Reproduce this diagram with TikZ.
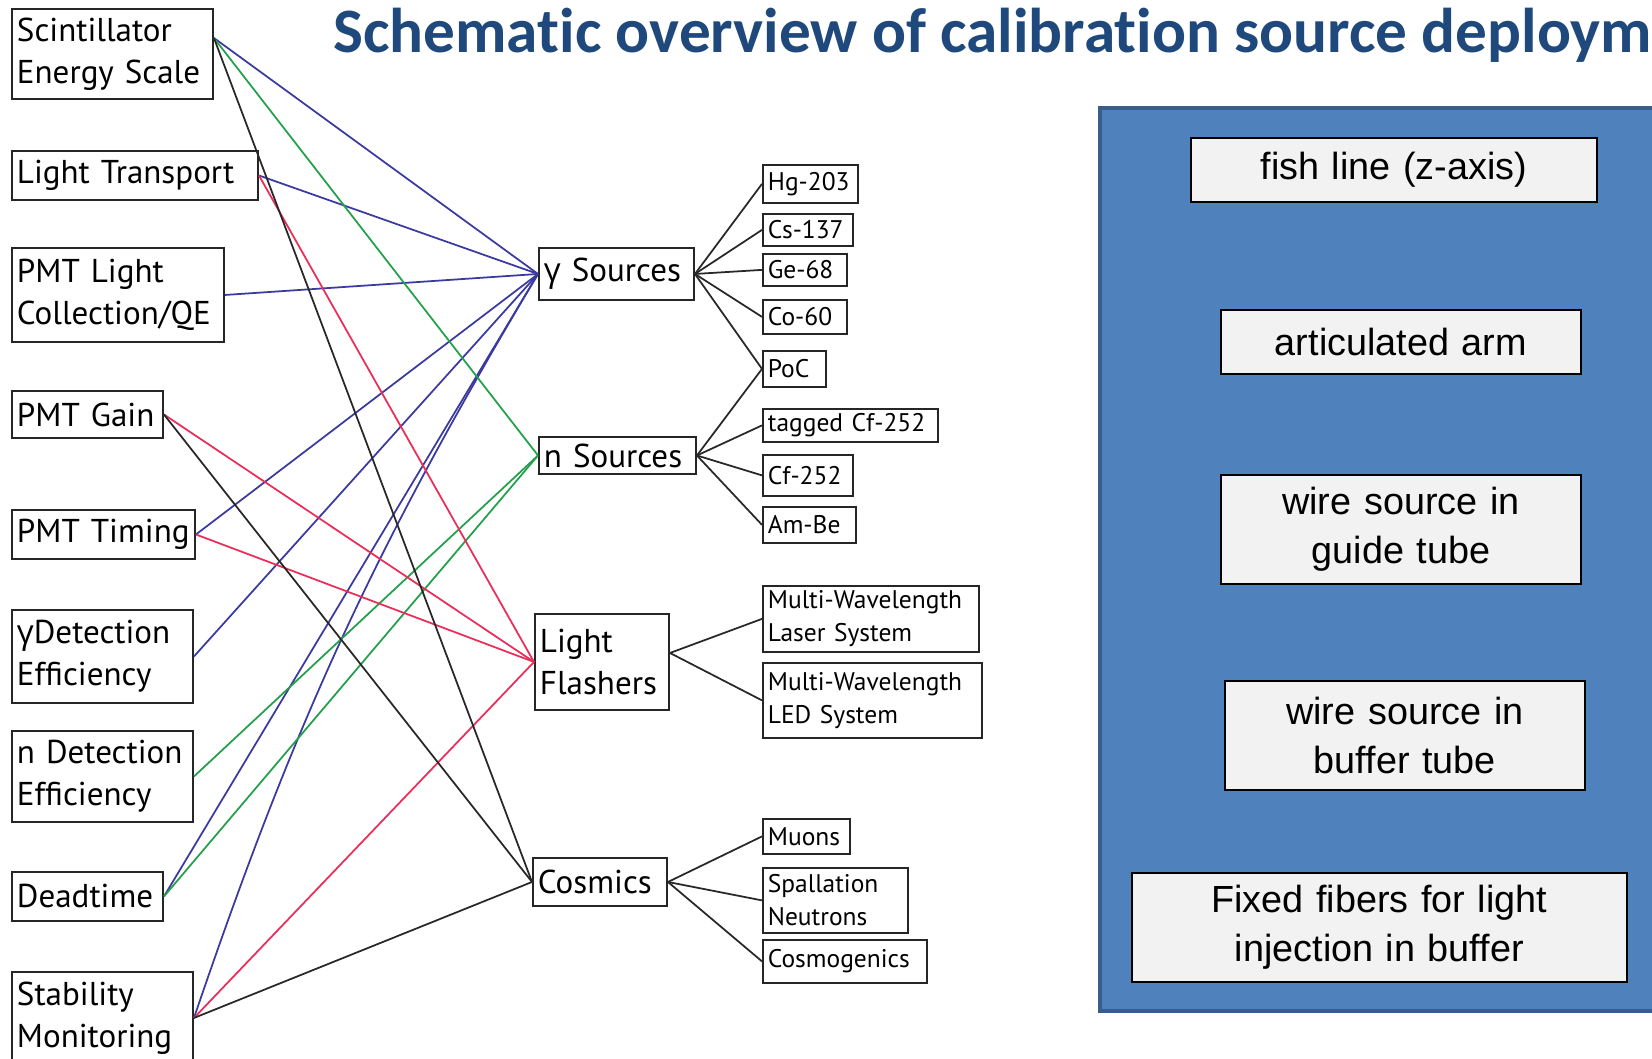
\documentclass[tikz,border=0pt]{standalone}
\usepackage{fontspec}
\setmainfont{PT Sans}
\newfontfamily\titlefont{Carlito}
\newfontfamily\armfont{Liberation Sans}
\newfontfamily\grkfont{Open Sans}
\usetikzlibrary{calc}

\definecolor{lineblue}{RGB}{58,58,160}
\definecolor{linegreen}{RGB}{35,160,75}
\definecolor{linered}{RGB}{235,45,90}
\definecolor{lineblack}{RGB}{40,40,40}
\definecolor{panelblue}{RGB}{79,129,189}
\definecolor{paneledge}{RGB}{56,93,138}
\definecolor{titleblue}{RGB}{31,73,125}
\definecolor{boxgrey}{RGB}{242,242,242}

\begin{document}
\begin{tikzpicture}[x=0.02cm,y=-0.02cm,
dims/.style 2 args={text width=(#1-10)*0.02cm, minimum height=#2*0.02cm}]
\tikzstyle{param} = [draw=black!85, line width=1.1pt, anchor=north west, align=left,
inner xsep=2.85pt, inner ysep=0pt, font=\fontsize{18.8}{23.9}\selectfont]
\tikzstyle{group} = [param]
\tikzstyle{source} = [param, line width=1pt, font=\fontsize{14.5}{18.8}\selectfont]
\tikzstyle{method} = [draw=black, line width=1pt, fill=boxgrey, anchor=north west,
align=center, inner xsep=2.85pt, inner ysep=0pt, font=\armfont\fontsize{21.5}{28}\selectfont]
\tikzstyle{bline} = [draw=lineblue, line width=1pt]
\tikzstyle{gline} = [draw=linegreen, line width=1pt]
\tikzstyle{rline} = [draw=linered, line width=1pt]
\tikzstyle{kline} = [draw=lineblack, line width=1pt]

\useasboundingbox (0,0) rectangle (1652,1058);
\clip (0,0) rectangle (1652,1058);

\node[anchor=base west, inner sep=0pt, text=titleblue,
font=\titlefont\bfseries\fontsize{36}{40}\selectfont] (title) at (333,52)
{Schemat\kern0pt ic overview of calibrat\kern0pt ion source deploym};

% what is calibrated
\node[param, dims={201}{90}] (scint) at (11,8) {Scintillator\\Energy Scale};
\node[param, dims={246}{49}] (ltrans) at (11,150) {Light Transport};
\node[param, dims={212}{94}] (pmtqe) at (11,247) {PMT Light\\Collection/QE};
\node[param, dims={151}{47}] (gain) at (11,390) {PMT Gain};
\node[param, dims={183}{49}] (timing) at (11,509) {PMT Timing};
\node[param, dims={181}{93}] (gdet) at (11,609) {{\grkfont γ}Detection\\Efficiency};
\node[param, dims={181}{91}] (ndet) at (11,730) {n Detection\\Efficiency};
\node[param, dims={151}{49}] (dead) at (11,871) {Deadtime};
\node[param, dims={181}{92}] (stab) at (11,971) {Stability\\Monitoring};

% kinds of source
\node[group, dims={155}{52}] (gsrc) at (538,247) {{\grkfont γ} Sources};
\node[group, dims={157}{37}] (nsrc) at (538,436) {n Sources};
\node[group, dims={134}{96}] (flash) at (534,613) {Light\\Flashers};
\node[group, dims={134}{48}] (cosm) at (532,857) {Cosmics};

\node[source, dims={95}{38}] (hg) at (762,164) {Hg-203};
\node[source, dims={90}{32}] (cs) at (762,213) {Cs-137};
\node[source, dims={84}{32}] (ge) at (762,253) {Ge-68};
\node[source, dims={84}{34}] (co) at (762,299) {Co-60};
\node[source, dims={63}{36}] (poc) at (762,350) {PoC};
\node[source, dims={175}{33}] (tcf) at (762,408) {tagged Cf-252};
\node[source, dims={90}{41}] (cf) at (762,454) {Cf-252};
\node[source, dims={93}{36}] (ambe) at (762,506) {Am-Be};
\node[source, dims={216}{66}] (laser) at (762,585) {Multi-Wavelength\\Laser System};
\node[source, dims={219}{75}] (led) at (762,662) {Multi-Wavelength\\LED System};
\node[source, dims={87}{35}] (muon) at (762,818) {Muons};
\node[source, dims={145}{65}] (spall) at (762,867) {Spallation\\Neutrons};
\node[source, dims={164}{43}] (cgen) at (762,939) {Cosmogenics};

% deployment systems
\draw[draw=paneledge, fill=panelblue, line width=2pt] (1100,108) rectangle (1700,1011);
\node[method, dims={406}{64}] (fish) at (1190,137) {fish line (z-axis)};
\node[method, dims={360}{64}] (arm) at (1220,309) {articulated arm};
\node[method, dims={360}{109}] (guide) at (1220,474) {wire source in\\guide tube};
\node[method, dims={360}{109}] (buffer) at (1224,680) {wire source in\\buffer tube};
\node[method, dims={495}{109}] (fibers) at (1131,872) {Fixed fibers for light\\injection in buffer};

\coordinate (scintout) at ($(scint.north east)+(0,30)$);
\coordinate (flashout) at ($(flash.east)+(0,-9)$);

\path[bline] (scintout) -- (gsrc.west);
\path[bline] (ltrans.east) -- (gsrc.west);
\path[bline] (pmtqe.east) -- (gsrc.west);
\path[bline] (timing.east) -- (gsrc.west);
\path[bline] (gdet.east) -- (gsrc.west);
\path[bline] (dead.east) -- (gsrc.west);
\path[bline] (stab.east) to[bend left=6] (gsrc.west);
\path[gline] (scintout) -- (nsrc.west);
\path[gline] (ndet.east) -- (nsrc.west);
\path[gline] (dead.east) -- (nsrc.west);
\path[rline] (ltrans.east) -- (flash.west);
\path[rline] (gain.east) -- (flash.west);
\path[rline] (timing.east) -- (flash.west);
\path[rline] (stab.east) -- (flash.west);
\path[kline] (scintout) -- (cosm.west);
\path[kline] (gain.east) -- (cosm.west);
\path[kline] (stab.east) -- (cosm.west);

\path[kline] (gsrc.east) -- (hg.west);
\path[kline] (gsrc.east) -- (cs.west);
\path[kline] (gsrc.east) -- (ge.west);
\path[kline] (gsrc.east) -- (co.west);
\path[kline] (gsrc.east) -- (poc.west);
\path[kline] (nsrc.east) -- (poc.west);
\path[kline] (nsrc.east) -- (tcf.west);
\path[kline] (nsrc.east) -- (cf.west);
\path[kline] (nsrc.east) -- (ambe.west);
\path[kline] (flashout) -- (laser.west);
\path[kline] (flashout) -- (led.west);
\path[kline] (cosm.east) -- (muon.west);
\path[kline] (cosm.east) -- (spall.west);
\path[kline] (cosm.east) -- (cgen.west);
\end{tikzpicture}
\end{document}
